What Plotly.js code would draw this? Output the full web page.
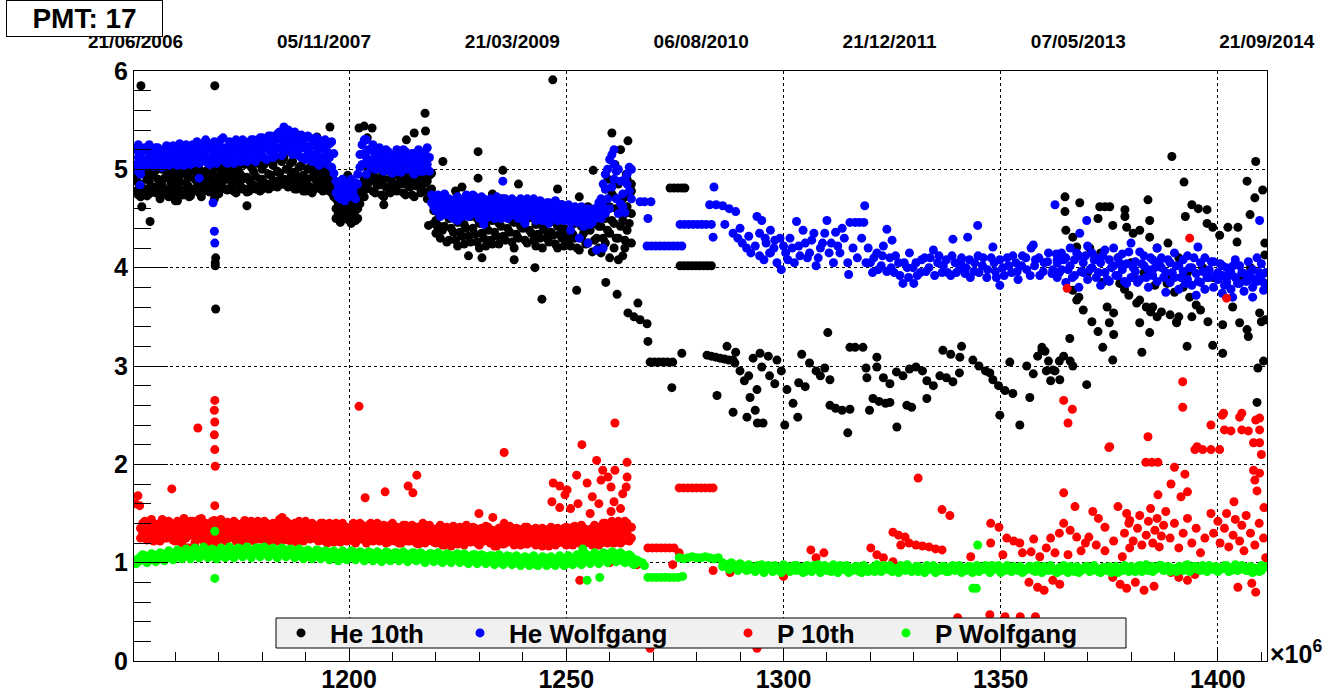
<!DOCTYPE html>
<html>
<head>
<meta charset="utf-8">
<script src="https://cdn.plot.ly/plotly-3.0.1.min.js"></script>
<style>
  html, body { margin: 0; padding: 0; background: #ffffff; }
  #plot { width: 1337px; height: 693px; }
</style>
</head>
<body>
<div id="plot"></div>
<script>
// Gain monitoring for PMT 17: four calibration methods versus time (x in 10^6 s).
const seriesNames = ['He 10th', 'He Wolfgang', 'P 10th', 'P Wolfgang'];
const seriesColors = ['#000000', '#0000ff', '#ff0000', '#00ff00'];
const dateTickLabels = ['21/06/2006', '05/11/2007', '21/03/2009', '06/08/2010', '21/12/2011', '07/05/2013', '21/09/2014'];
const pmtLabel = 'PMT: 17';

// Each row: [time, reading, reading, ...] — readings taken around the same time.
const heTenthBand = [
  [1151,4.92,4.78,5.0],[1152,4.85,4.72],[1153,4.95,4.8],[1154,4.88,4.75,5.02],[1155,4.82,4.96],
  [1156,4.9,4.77],[1157,5.0,4.84,4.74],[1158,4.93,4.79],[1159,4.86,5.02],[1160,4.76,4.95,4.68],
  [1161,4.88,4.8],[1162,5.0,4.74],[1163,4.92,4.83],[1164,4.78,5.03],[1165,4.87,4.95],
  [1166,4.8,4.72],[1167,4.98,4.86],[1168,4.9,4.77],[1169,5.02,4.84],[1170,4.75,4.94],
  [1171,4.88,5.04],[1172,4.79,4.96],[1173,4.85,5.0],[1174,4.76,4.92],[1175,4.95,4.83],
  [1176,5.05,4.8],[1177,4.89,4.78],[1178,4.98,4.84],[1179,5.06,4.82],[1180,4.9,4.8,5.0],
  [1181,5.08,4.85],[1182,4.94,4.82],[1183,5.1,4.88],[1184,4.96,4.84],[1185,5.12,4.9],
  [1186,5.0,4.82],[1187,5.08,4.86],[1188,4.93,4.8],[1189,5.04,4.85],[1190,4.9,4.78],
  [1191,5.02,4.82],[1192,4.95,4.8],[1193,4.87,5.05],[1194,4.78,4.92],[1195,4.98,4.84],
  [1196,4.9,4.76],[1197,4.7,4.6,4.5],[1198,4.55,4.65,4.46],[1199,4.62,4.5],[1200,4.48,4.58,4.68],
  [1201,4.52,4.64],[1202,4.6,4.5,4.7],[1203,4.85,4.75],[1204,4.95,4.8],[1205,4.88,5.02],
  [1206,4.76,4.92],[1207,5.0,4.84],[1208,4.9,4.72],[1209,4.98,4.8],[1210,4.86,5.04],
  [1211,4.78,4.94],[1212,5.0,4.85],[1213,4.9,4.74],[1214,4.82,4.98],[1215,4.72,4.9],
  [1216,5.02,4.84],[1217,4.78,4.95],[1218,4.88,4.7],[1219,4.8,4.96],[1220,4.62,4.48,4.35],
  [1221,4.55,4.3],[1222,4.42,4.66],[1223,4.28,4.5],[1224,4.6,4.36],[1225,4.22,4.46],
  [1226,4.56,4.32],[1227,4.4,4.68],[1228,4.26,4.52],[1229,4.62,4.34],[1230,4.45,4.2],
  [1231,4.3,4.55],[1232,4.64,4.38],[1233,4.24,4.48],[1234,4.58,4.32],[1235,4.42,4.7],
  [1236,4.28,4.52],[1237,4.6,4.36],[1238,4.2,4.46],[1239,4.54,4.3],[1240,4.4,4.66],
  [1241,4.25,4.5],[1242,4.6,4.35],[1243,4.44,4.22],[1244,4.3,4.56],[1245,4.62,4.38],
  [1246,4.26,4.48],[1247,4.55,4.33],[1248,4.42,4.2],[1249,4.64,4.3],[1250,4.36,4.5],
  [1251,4.22,4.58],[1252,4.45,4.3],[1253,4.6,4.18],[1254,4.35,4.52],[1255,4.25,4.62],
  [1256,4.44,4.16],[1257,4.55,4.3],[1258,4.15,4.42,4.68],[1259,4.5,4.25,4.8],[1260,4.35,4.62,4.1],
  [1261,4.72,4.45,4.2],[1262,4.3,4.58,4.85],[1263,4.12,4.48,4.7],[1264,4.38,4.62,4.9],[1265,4.25,4.55,4.78]
];
const heTenthBandMid = [
  [1151.5,4.86,4.74],[1152.5,4.98,4.8],[1153.5,4.73,4.9],[1154.5,4.94,4.82],[1155.5,4.76,4.99],
  [1156.5,4.84,4.7],[1157.5,4.91,4.78],[1158.5,4.72,4.97],[1159.5,4.8,4.93],[1160.5,4.99,4.86],
  [1161.5,4.74,4.95],[1162.5,4.86,4.79],[1163.5,4.98,4.73],[1164.5,4.9,4.8],[1165.5,4.76,5.0],
  [1166.5,4.93,4.84],[1167.5,4.78,4.9],[1168.5,4.96,4.82],[1169.5,4.88,4.76],[1170.5,5.0,4.83],
  [1171.5,4.8,4.93],[1172.5,4.9,5.02],[1173.5,4.78,4.95],[1174.5,5.0,4.86],[1175.5,4.8,4.9],
  [1176.5,4.92,4.77],[1177.5,5.02,4.85],[1178.5,4.8,4.93],[1179.5,4.9,4.78],[1180.5,5.05,4.86],
  [1181.5,4.8,4.95],[1182.5,5.04,4.88],[1183.5,4.82,4.98],[1184.5,5.08,4.9],[1185.5,4.84,5.0],
  [1186.5,4.92,5.06],[1187.5,4.8,4.97],[1188.5,5.02,4.86],[1189.5,4.78,4.94],[1190.5,5.0,4.84],
  [1191.5,4.76,4.92],[1192.5,4.88,5.0],[1193.5,4.8,4.96],[1194.5,4.86,5.02],[1195.5,4.78,4.92],
  [1196.5,4.84,4.72],[1197.5,4.55,4.66],[1198.5,4.5,4.6],[1199.5,4.56,4.67],[1200.5,4.45,4.62],
  [1201.5,4.58,4.48],[1202.5,4.65,4.78],[1203.5,4.9,4.72],[1204.5,4.86,5.0],[1205.5,4.78,4.94],
  [1206.5,4.84,5.02],[1207.5,4.74,4.92],[1208.5,4.82,5.0],[1209.5,4.9,4.76],[1210.5,4.96,4.8],
  [1211.5,4.86,5.02],[1212.5,4.76,4.92],[1213.5,4.98,4.84],[1214.5,4.74,4.9],[1215.5,4.83,4.98],
  [1216.5,4.76,4.92],[1217.5,4.86,5.0],[1218.5,4.78,4.94],[1219.5,4.7,4.58],[1220.5,4.4,4.56],
  [1221.5,4.64,4.38],[1222.5,4.26,4.54],[1223.5,4.62,4.4],[1224.5,4.5,4.28],[1225.5,4.6,4.36],
  [1226.5,4.24,4.44],[1227.5,4.55,4.32],[1228.5,4.4,4.64],[1229.5,4.5,4.26],[1230.5,4.35,4.6],
  [1231.5,4.44,4.22],[1232.5,4.28,4.52],[1233.5,4.6,4.36],[1234.5,4.45,4.24],[1235.5,4.56,4.32],
  [1236.5,4.4,4.62],[1237.5,4.48,4.26],[1238.5,4.34,4.58],[1239.5,4.64,4.42],[1240.5,4.28,4.52],
  [1241.5,4.38,4.6],[1242.5,4.5,4.28],[1243.5,4.58,4.34],[1244.5,4.42,4.2],[1245.5,4.5,4.3],
  [1246.5,4.36,4.6],[1247.5,4.24,4.46],[1248.5,4.55,4.34],[1249.5,4.4,4.22],[1250.5,4.6,4.28],
  [1251.5,4.34,4.48],[1252.5,4.54,4.2],[1253.5,4.42,4.3],[1254.5,4.6,4.24],[1255.5,4.38,4.5],
  [1256.5,4.28,4.58],[1257.5,4.42,4.2],[1258.5,4.3,4.55],[1259.5,4.62,4.38],[1260.5,4.48,4.75],
  [1261.5,4.3,4.6],[1262.5,4.42,4.7],[1263.5,4.55,4.28],[1264.5,4.45,4.72]
];
const heTenthScatter = [
  [1152.1,5.85],[1169.1,5.85],[1152.3,4.62],[1154.2,4.47],[1169.2,4.05],[1169.3,4.1],[1169.2,4.02],
  [1169.3,3.58],[1169.0,4.7],[1176.5,4.63],[1160.5,4.68],[1163.2,4.72],[1195.6,5.43],[1192.6,5.33],
  [1151.4,4.95],[1165.8,4.85],[1199.7,4.94],[1197.2,4.7],
  [1202.3,5.42],[1203.5,5.44],[1205.3,5.42],[1204.2,5.32],[1217.5,5.57],[1217.6,5.39],[1213.2,5.3],
  [1215.0,5.37],[1208.0,4.64],[1218.3,4.43],[1219.5,4.45],[1220.8,4.42],[1221.6,5.08],[1210.5,5.1],
  [1229.7,5.18],[1235.4,4.99],[1229.7,4.91],[1246.9,5.91],[1230.6,4.1],[1244.4,3.68],[1242.8,4.0],
  [1252.4,3.77],[1226.0,4.82],[1239.0,4.85],[1224.5,4.78],[1233.0,4.75],[1248.0,4.8],[1253.0,4.72],
  [1227.5,4.12],[1238.0,4.08],[1256.2,4.99],
  [1260.5,5.37],[1264.2,5.29],[1262.5,5.2],[1261.2,5.05],[1263.8,4.95],[1259.6,4.9],[1265.0,4.85],
  [1262.0,4.08],[1263.5,4.2],
  [1259.1,3.85],[1261.7,3.73],[1266.5,3.64],[1264.2,3.54],[1265.6,3.5],[1267.0,3.47],[1268.6,3.43],
  [1268.8,3.25],[1269.3,3.04],[1270.3,3.04],[1271.3,3.04],[1272.3,3.04],[1273.3,3.04],[1274.5,3.04],
  [1276.6,3.13],[1274.3,2.78],
  [1273.9,4.81],[1274.8,4.81],[1275.7,4.81],[1276.6,4.81],[1277.3,4.81],
  [1276.2,4.02],[1277.1,4.02],[1278.0,4.02],[1278.9,4.02],[1279.8,4.02],[1280.7,4.02],[1281.6,4.02],
  [1282.5,4.02],[1283.4,4.02],
  [1282.4,3.11],[1283.4,3.1],[1284.4,3.09],[1285.4,3.08],[1286.4,3.07],[1287.4,3.06],[1288.4,3.06],
  [1287.0,3.2],[1289.0,3.14],[1284.7,2.7],[1288.8,3.03],[1290.0,2.95],[1291.0,2.85],[1292.0,2.9],
  [1293.9,2.76],[1288.4,2.53],[1291.6,2.48],[1292.3,2.68],[1293.5,2.55],[1294.0,2.42],[1293.0,3.08],
  [1294.6,3.13],[1296.5,3.1],[1298.5,3.06],[1295.0,2.99],[1296.8,2.9],[1298.0,2.82],[1299.5,2.95],
  [1300.8,2.76],[1295.3,2.42],[1300.3,2.4],[1302.2,2.62],[1303.3,2.48],[1304.2,3.12],[1306.0,3.03],
  [1307.5,2.95],[1308.5,2.9],[1309.5,2.98],[1310.7,2.86],[1310.2,3.34],[1303.5,2.83],[1305.0,2.79],
  [1310.7,2.6],[1312.0,2.57],[1313.5,2.55],[1315.3,2.56],[1314.8,2.32],[1315.3,3.19],[1316.5,3.19],
  [1318.3,3.19],[1321.5,3.09],[1319.0,2.98],[1319.2,2.88],[1320.6,2.67],[1322.0,2.64],[1323.5,2.62],
  [1324.5,2.63],[1319.8,2.55],[1321.5,2.99],[1323.0,2.88],[1324.5,2.82],[1326.0,2.94],[1327.5,2.9],
  [1329.0,2.97],[1330.5,2.99],[1332.0,2.95],[1333.0,2.85],[1326.1,2.38],[1328.4,2.6],[1329.5,2.58],
  [1333.0,2.67],[1334.5,2.8],[1336.0,2.9],[1337.5,2.88],[1339.0,2.84],[1340.5,2.93],[1336.7,3.16],
  [1338.5,3.12],[1340.6,3.09],[1341.0,3.2],[1343.6,3.06],[1345.0,3.0],[1346.5,2.95],[1347.5,2.93],
  [1348.2,2.86],[1349.5,2.8],[1351.0,2.75],[1352.8,2.72],[1349.8,2.5],[1354.4,2.4],[1352.1,3.04],
  [1356.7,2.68],[1356.0,3.0],[1357.5,2.92],[1358.5,3.1],[1359.5,3.19],[1361.0,3.05],[1362.0,2.96],
  [1363.6,2.86],[1360.2,3.15],
  [1359.5,3.16],[1360.5,2.95],[1361.5,2.85],[1362.5,2.95],[1363.5,3.05],[1364.5,3.1],[1366.0,3.05],
  [1366.6,3.0],[1369.8,2.81],
  [1364.8,4.72],[1364.8,4.57],[1368.2,4.66],[1365.0,4.38],[1366.6,4.31],[1367.5,4.21],[1366.6,3.77],
  [1367.5,3.67],[1369.0,3.57],[1368.0,3.7],[1365.9,3.28],[1371.0,3.45],[1372.4,3.35],[1373.5,3.19],
  [1372.4,4.5],[1372.8,4.62],[1374.0,4.62],[1375.1,4.62],[1374.5,3.6],[1376.0,3.54],[1375.8,3.06],
  [1375.0,3.44],[1376.0,3.32],[1378.6,4.59],[1378.6,4.52],[1375.8,4.43],[1379.0,4.41],[1380.5,4.35],
  [1382.0,4.38],[1384.3,4.31],[1383.9,4.69],[1384.3,4.48],[1377.4,3.84],[1378.5,3.78],[1379.5,3.72],
  [1381.3,3.64],[1382.0,3.67],[1383.5,3.6],[1384.5,3.55],[1386.0,3.5],[1382.0,3.44],[1384.3,3.34],
  [1382.5,3.14],[1385.0,3.6],[1387.0,3.55],[1389.0,3.52],[1391.0,3.5],[1390.5,3.44],[1389.4,5.13],
  [1392.2,4.87],[1394.0,4.64],[1395.5,4.6],[1397.5,4.59],[1392.5,4.52],[1397.5,4.45],[1398.8,4.41],
  [1400.4,4.33],[1402.3,4.41],[1404.6,4.41],[1404.4,4.26],[1406.7,4.88],[1408.7,5.08],[1410.3,4.79],
  [1408.5,4.71],[1407.4,4.54],[1410.8,4.25],[1410.8,4.13],[1388.3,3.84],[1390.0,3.75],[1392.0,3.8],
  [1393.5,3.7],[1395.0,3.62],[1396.0,3.57],[1394.0,3.5],[1390.5,3.45],[1397.7,3.45],[1398.8,3.21],
  [1401.1,3.42],[1401.1,3.13],[1403.4,3.6],[1405.0,3.44],[1406.7,3.37],[1407.0,3.3],[1409.6,3.54],
  [1411.0,3.47],[1410.0,3.45],[1409.2,2.98],[1410.5,3.05],[1409.0,2.63],[1392.9,3.2],
  [1370.5,4.2],[1373.0,4.15],[1377.0,4.1],[1380.0,4.05],[1383.0,3.95],[1386.0,4.2],[1388.5,4.25],
  [1391.0,4.1],[1393.0,3.95],[1396.5,4.0],[1399.0,3.9],[1402.0,3.85],[1405.5,3.9],[1407.5,4.0],
  [1370.0,3.95],[1373.5,3.85],[1380.5,3.9],[1385.5,3.82],[1388.0,3.9]
];

const heWolfgangBand = [
  [1151,5.2,5.05],[1152,5.1,4.95],[1153,5.22,5.04],[1154,5.12,5.25],[1155,5.03,5.18],
  [1156,5.08,5.22],[1157,5.15,5.02],[1158,5.24,5.1],[1159,5.05,5.16],[1160,5.2,5.08],
  [1161,5.12,5.26],[1162,5.04,5.18],[1163,5.22,5.1],[1164,5.06,5.25],[1165,5.15,5.28],
  [1166,5.08,5.2],[1167,5.3,5.12],[1168,5.05,5.22],[1169,5.16,5.28],[1170,5.1,5.24],
  [1171,5.32,5.14],[1172,5.06,5.2],[1173,5.26,5.12],[1174,5.18,5.3],[1175,5.08,5.22],
  [1176,5.28,5.14],[1177,5.1,5.24],[1178,5.3,5.16],[1179,5.12,5.26],[1180,5.2,5.32],
  [1181,5.1,5.28],[1182,5.34,5.18],[1183,5.14,5.3],[1184,5.38,5.22],[1185,5.43,5.18],
  [1186,5.26,5.4],[1187,5.15,5.34],[1188,5.3,5.2],[1189,5.12,5.35],[1190,5.24,5.1],
  [1191,5.32,5.16],[1192,5.08,5.26],[1193,5.2,5.3],[1194,5.12,5.24],[1195,5.05,5.18],
  [1196,5.28,5.02],[1197,4.88,4.76],[1198,4.7,4.84],[1199,4.78,4.68],[1200,4.86,4.72],
  [1201,4.74,4.8],[1202,4.85,4.95],[1203,5.25,5.05],[1204,5.12,5.3],[1205,5.2,5.02],
  [1206,5.0,5.15],[1207,5.22,5.08],[1208,4.98,5.12],[1209,5.18,5.04],[1210,5.1,4.96],
  [1211,5.2,5.02],[1212,4.97,5.14],[1213,5.08,5.18],[1214,5.0,5.12],[1215,5.16,4.95],
  [1216,5.06,5.2],[1217,4.98,5.12],[1218,5.22,5.05],[1219,4.74,4.66],[1220,4.7,4.58],
  [1221,4.52,4.64],[1222,4.75,4.6],[1223,4.56,4.7],[1224,4.62,4.5],[1225,4.72,4.55],
  [1226,4.64,4.52],[1227,4.58,4.74],[1228,4.68,4.54],[1229,4.6,4.72],[1230,4.5,4.66],
  [1231,4.7,4.57],[1232,4.62,4.52],[1233,4.55,4.68],[1234,4.72,4.6],[1235,4.64,4.5],
  [1236,4.56,4.7],[1237,4.62,4.53],[1238,4.68,4.58],[1239,4.5,4.66],[1240,4.6,4.55],
  [1241,4.7,4.52],[1242,4.57,4.65],[1243,4.62,4.48],[1244,4.54,4.68],[1245,4.6,4.5],
  [1246,4.66,4.56],[1247,4.52,4.62],[1248,4.58,4.48],[1249,4.64,4.54],[1250,4.5,4.6],
  [1251,4.56,4.46],[1252,4.62,4.52],[1253,4.48,4.58],[1254,4.55,4.45],[1255,4.6,4.5],
  [1256,4.46,4.56],[1257,4.52,4.6],[1258,4.7,4.5],[1259,4.8,4.55,4.95],[1260,5.1,4.6],
  [1261,5.2,4.9,5.05],[1262,5.0,4.55],[1263,4.75,4.62],[1264,4.85,4.95],[1265,4.7,5.0],
  [1363,4.05,3.9],[1364,4.15,3.98],[1365,4.1,3.85],[1366,4.02,4.2],[1367,3.92,4.08],
  [1368,3.8,4.12],[1369,3.95,4.05],[1370,4.22,3.88],[1371,4.0,4.15],[1372,3.9,4.1],
  [1373,3.82,4.05],[1374,4.18,3.95],[1375,4.08,3.86],[1376,4.02,4.2],[1377,3.92,4.1],
  [1378,3.98,4.14],[1379,3.84,4.04],[1380,4.25,3.9],[1381,4.06,3.96],[1382,4.16,3.88],
  [1383,4.02,4.12],[1384,3.8,3.98],[1385,4.08,3.92],[1386,4.2,3.86],[1387,4.0,4.1],
  [1388,3.75,3.95],[1389,4.05,3.85],[1390,4.15,3.9],[1391,4.02,3.78],[1392,3.96,4.08],
  [1393,3.88,4.12],[1394,3.82,4.0],[1395,3.72,3.94],[1396,4.05,3.85],[1397,4.1,3.78],
  [1398,3.98,3.9],[1399,4.06,3.8],[1400,3.95,3.88],[1401,4.02,3.92],[1402,3.85,4.0],
  [1403,3.78,3.95],[1404,4.08,3.9],[1405,3.84,4.02],[1406,3.94,3.76],[1407,4.06,3.88],
  [1408,3.8,3.98],[1409,4.1,3.86],[1410,3.92,4.04],[1411,3.82,3.95]
];
const heWolfgangBandMid = [
  [1151.5,5.12,4.98],[1152.5,5.18,5.02],[1153.5,5.1,5.2],[1154.5,5.04,5.16],[1155.5,5.22,5.1],
  [1156.5,5.14,5.03],[1157.5,5.08,5.2],[1158.5,5.16,5.04],[1159.5,5.24,5.1],[1160.5,5.14,5.04],
  [1161.5,5.2,5.08],[1162.5,5.12,5.25],[1163.5,5.05,5.16],[1164.5,5.18,5.12],[1165.5,5.06,5.22],
  [1166.5,5.26,5.14],[1167.5,5.2,5.06],[1168.5,5.12,5.26],[1169.5,5.22,5.06],[1170.5,5.16,5.3],
  [1171.5,5.08,5.22],[1172.5,5.14,5.28],[1173.5,5.2,5.06],[1174.5,5.1,5.24],[1175.5,5.16,5.3],
  [1176.5,5.22,5.08],[1177.5,5.18,5.3],[1178.5,5.08,5.22],[1179.5,5.18,5.32],[1180.5,5.26,5.12],
  [1181.5,5.2,5.34],[1182.5,5.12,5.26],[1183.5,5.22,5.36],[1184.5,5.3,5.14],[1185.5,5.34,5.24],
  [1186.5,5.18,5.3],[1187.5,5.24,5.38],[1188.5,5.14,5.26],[1189.5,5.22,5.3],[1190.5,5.16,5.34],
  [1191.5,5.24,5.08],[1192.5,5.16,5.32],[1193.5,5.1,5.24],[1194.5,5.2,5.3],[1195.5,5.12,5.26],
  [1196.5,5.16,4.96],[1197.5,4.82,4.72],[1198.5,4.78,4.9],[1199.5,4.84,4.74],[1200.5,4.78,4.9],
  [1201.5,4.86,4.7],[1202.5,5.02,5.15],[1203.5,5.16,5.3],[1204.5,5.2,5.05],[1205.5,5.1,5.25],
  [1206.5,5.06,5.2],[1207.5,5.14,5.0],[1208.5,5.06,5.2],[1209.5,5.1,4.98],[1210.5,5.15,5.04],
  [1211.5,5.1,4.98],[1212.5,5.06,5.2],[1213.5,5.0,5.12],[1214.5,5.06,5.16],[1215.5,5.08,5.02],
  [1216.5,5.14,4.98],[1217.5,5.05,5.18],[1218.5,5.12,4.98],[1219.5,4.7,4.62],[1220.5,4.64,4.74],
  [1221.5,4.7,4.58],[1222.5,4.54,4.66],[1223.5,4.64,4.52],[1224.5,4.7,4.58],[1225.5,4.6,4.66],
  [1226.5,4.7,4.56],[1227.5,4.64,4.52],[1228.5,4.6,4.74],[1229.5,4.54,4.66],[1230.5,4.62,4.72],
  [1231.5,4.64,4.5],[1232.5,4.7,4.58],[1233.5,4.62,4.5],[1234.5,4.66,4.55],[1235.5,4.58,4.7],
  [1236.5,4.64,4.5],[1237.5,4.7,4.58],[1238.5,4.52,4.63],[1239.5,4.58,4.7],[1240.5,4.66,4.5],
  [1241.5,4.6,4.62],[1242.5,4.52,4.7],[1243.5,4.56,4.66],[1244.5,4.62,4.48],[1245.5,4.56,4.66],
  [1246.5,4.5,4.6],[1247.5,4.58,4.68],[1248.5,4.52,4.64],[1249.5,4.58,4.48],[1250.5,4.55,4.64],
  [1251.5,4.5,4.6],[1252.5,4.56,4.46],[1253.5,4.52,4.62],[1254.5,4.48,4.58],[1255.5,4.55,4.44],
  [1256.5,4.5,4.6],[1257.5,4.56,4.66],[1258.5,4.62,4.85],[1259.5,4.7,5.0],[1260.5,4.82,5.15],
  [1261.5,4.7,4.98],[1262.5,4.88,4.65],[1263.5,4.56,4.9],[1264.5,4.78,5.02],
  [1363.5,3.95],[1364.5,4.08],[1365.5,3.98],[1366.5,3.9],[1367.5,4.15],[1368.5,3.96],
  [1369.5,4.12],[1370.5,3.98],[1371.5,4.08],[1372.5,3.95],[1373.5,4.12],[1374.5,3.88],
  [1375.5,4.0],[1376.5,3.92],[1377.5,4.04],[1378.5,3.86],[1379.5,4.16],[1380.5,4.0],
  [1381.5,3.85],[1382.5,4.04],[1383.5,3.9],[1384.5,4.1],[1385.5,4.0],[1386.5,4.05],
  [1387.5,3.9],[1388.5,4.08],[1389.5,3.95],[1390.5,4.02],[1391.5,3.9],[1392.5,3.84],
  [1393.5,4.0],[1394.5,4.1],[1395.5,3.86],[1396.5,3.96],[1397.5,3.9],[1398.5,4.06],
  [1399.5,3.92],[1400.5,4.04],[1401.5,3.82],[1402.5,3.92],[1403.5,4.02],[1404.5,3.84],
  [1405.5,3.95],[1406.5,3.86],[1407.5,3.95],[1408.5,3.88],[1409.5,3.95],[1410.5,3.85]
];
const heWolfgangScatter = [
  [1151.9,4.84],[1165.5,4.91],[1168.7,4.66],[1169.0,4.37],[1169.1,4.25],[1193.1,5.04],[1151.5,5.25],
  [1204.0,4.95],
  [1235.4,4.88],[1251.0,4.38],[1253.0,4.3],[1255.0,4.25],[1257.0,4.18],[1258.5,4.2],[1254.0,4.42],
  [1246.0,4.45],[1240.5,4.45],[1225.0,4.48],[1231.0,4.44],
  [1267.0,4.67],[1268.0,4.67],[1269.5,4.67],[1268.8,4.5],
  [1268.6,4.22],[1269.6,4.22],[1270.6,4.22],[1271.6,4.22],[1272.6,4.22],[1273.6,4.22],[1274.6,4.22],
  [1275.6,4.22],[1276.6,4.22],
  [1276.2,4.44],[1277.2,4.44],[1278.2,4.44],[1279.2,4.44],[1280.2,4.44],[1281.2,4.44],[1282.2,4.44],
  [1283.4,4.44],
  [1284.0,4.82],[1283.0,4.64],[1284.5,4.64],[1286.0,4.63],[1287.5,4.6],[1289.0,4.57],[1283.8,4.31],
  [1286.5,4.44],[1288.4,4.35],[1289.5,4.3],[1290.5,4.25],[1291.5,4.2],[1292.5,4.15],[1293.5,4.22],
  [1294.5,4.12],[1295.5,4.08],[1297.0,4.15],[1293.9,4.52],[1290.0,4.4],[1292.0,4.32],
  [1294.5,4.35],[1295.0,4.48],[1296.0,4.25],[1297.0,4.38],[1297.8,4.2],[1298.5,4.05],[1299.2,4.3],
  [1299.5,3.98],[1300.5,4.15],[1301.5,4.3],[1302.5,4.05],[1303.0,4.47],[1303.5,4.22],[1304.5,4.38],
  [1305.5,4.1],[1306.5,4.28],[1307.5,4.02],[1308.5,4.2],[1309.5,4.35],[1310.0,4.48],[1311.0,4.25],
  [1312.0,4.36],[1313.0,4.15],[1314.0,4.3],[1314.8,4.05],[1315.0,3.93],[1315.3,4.46],[1316.5,4.46],
  [1317.5,4.46],[1318.5,4.46],[1318.7,4.63],[1319.5,4.2],[1320.0,4.05],[1320.5,3.95],[1321.5,4.15],
  [1322.5,4.02],[1323.0,4.22],[1323.8,4.39],[1324.5,4.1],[1325.0,4.28],[1325.5,3.95],[1326.5,4.05],
  [1327.5,3.84],[1328.5,4.0],[1329.0,4.15],[1330.0,3.84],[1330.5,4.05],[1331.5,3.95],[1332.5,4.1],
  [1333.5,4.0],[1334.5,4.18],[1335.5,4.05],[1336.5,3.95],[1337.5,4.08],[1338.5,3.92],[1339.0,4.29],
  [1339.5,4.05],[1340.5,3.98],[1341.0,4.1],[1342.0,4.0],[1342.4,4.31],[1343.0,3.9],[1344.0,4.05],
  [1344.7,4.43],[1345.0,3.95],[1346.0,4.1],[1347.0,3.98],[1348.2,4.21],[1348.5,4.05],[1349.0,3.9],
  [1349.8,3.82],[1350.5,4.0],[1351.5,4.1],[1352.5,3.95],[1353.5,4.05],[1354.0,3.88],[1355.0,4.12],
  [1356.0,3.98],[1357.0,4.2],[1357.5,4.23],[1358.0,4.08],[1359.0,3.92],[1360.0,4.05],[1361.0,4.15],
  [1362.0,3.98],[1362.5,4.64],[1363.0,4.08],
  [1295.8,4.3],[1296.8,4.15],[1298.0,4.28],[1300.0,4.22],[1301.0,4.08],[1302.0,4.2],[1303.8,4.12],
  [1305.0,4.25],[1306.0,4.15],[1307.0,4.35],[1308.0,4.1],[1309.0,4.25],[1310.5,4.15],[1311.5,4.05],
  [1312.5,4.22],[1313.5,4.4],[1316.0,4.2],[1317.0,4.1],[1318.0,4.3],[1319.0,4.05],
  [1320.8,4.1],[1321.8,3.98],[1322.8,4.12],[1323.8,3.96],[1324.8,4.0],[1325.8,4.12],[1326.8,3.92],
  [1327.8,4.05],[1328.8,3.9],[1329.8,4.0],[1330.8,3.92],[1331.8,4.08],[1332.8,3.96],[1333.8,4.1],
  [1334.8,3.92],[1335.8,4.12],[1336.8,4.02],[1337.8,3.95],[1338.8,4.12],[1339.8,3.95],[1340.8,4.05],
  [1341.8,3.94],[1342.8,4.08],[1343.8,3.96],[1344.8,4.12],[1345.8,4.02],[1346.8,3.9],[1347.8,4.1],
  [1348.8,3.96],[1349.8,4.08],[1350.8,3.92],[1351.8,4.02],[1352.8,4.12],[1353.8,3.96],[1354.8,4.02],
  [1355.8,4.1],[1356.8,3.92],[1357.8,4.02],[1358.8,4.1],[1359.8,3.96],[1360.8,4.06],[1361.8,3.94],
  [1362.8,4.14],
  [1369.8,4.48],[1368.2,4.35],[1395.4,4.21],[1409.6,4.48],[1401.0,3.74],[1403.4,3.7],[1408.0,3.7],
  [1410.5,3.77]
];

const pTenthBand = [
  [1152,1.35,1.25],[1153,1.42,1.3],[1154,1.28,1.38],[1155,1.22,1.4],[1156,1.33,1.27],
  [1157,1.44,1.3],[1158,1.25,1.36],[1159,1.4,1.28],[1160,1.32,1.22],[1161,1.38,1.26],
  [1162,1.3,1.45],[1163,1.15,1.35],[1164,1.42,1.28],[1165,1.24,1.37],[1166,1.33,1.45],
  [1167,1.27,1.4],[1168,1.36,1.22],[1169,1.3,1.43],[1170,1.25,1.38],[1171,1.34,1.28],
  [1172,1.41,1.24],[1173,1.3,1.36],[1174,1.22,1.4],[1175,1.35,1.27],[1176,1.43,1.3],
  [1177,1.26,1.36],[1178,1.38,1.22],[1179,1.3,1.42],[1180,1.24,1.34],[1181,1.4,1.28],
  [1182,1.32,1.22],[1183,1.37,1.26],[1184,1.3,1.44],[1185,1.23,1.36],[1186,1.4,1.3],
  [1187,1.27,1.35],[1188,1.33,1.21],[1189,1.38,1.28],[1190,1.25,1.42],[1191,1.34,1.24],
  [1192,1.3,1.38],[1193,1.22,1.35],[1194,1.4,1.27],[1195,1.32,1.2],[1196,1.36,1.26],
  [1197,1.28,1.4],[1198,1.21,1.34],[1199,1.37,1.28],[1200,1.25,1.32],[1201,1.4,1.22],
  [1202,1.3,1.36],[1203,1.24,1.38],[1204,1.33,1.2],[1205,1.27,1.4],[1206,1.36,1.24],
  [1207,1.3,1.22],[1208,1.38,1.27],[1209,1.21,1.34],[1210,1.3,1.4],[1211,1.25,1.36],
  [1212,1.33,1.2],[1213,1.38,1.28],[1214,1.22,1.34],[1215,1.3,1.24],[1216,1.36,1.19],
  [1217,1.28,1.4],[1218,1.22,1.33],[1219,1.35,1.26],[1220,1.2,1.3],[1221,1.38,1.24],
  [1222,1.28,1.18],[1223,1.34,1.22],[1224,1.25,1.37],[1225,1.19,1.3],[1226,1.33,1.24],
  [1227,1.27,1.38],[1228,1.21,1.32],[1229,1.35,1.25],[1230,1.18,1.29],[1231,1.31,1.22],
  [1232,1.26,1.36],[1233,1.2,1.33],[1234,1.3,1.17],[1235,1.24,1.35],[1236,1.32,1.2],
  [1237,1.27,1.37],[1238,1.18,1.3],[1239,1.34,1.22],[1240,1.25,1.32],[1241,1.19,1.36],
  [1242,1.3,1.23],[1243,1.35,1.18],[1244,1.22,1.29],[1245,1.32,1.26],[1246,1.17,1.34],
  [1247,1.28,1.22],[1248,1.35,1.2],[1249,1.24,1.3],[1250,1.18,1.36],[1251,1.31,1.23],
  [1252,1.26,1.37],[1253,1.2,1.32],[1254,1.35,1.25],[1255,1.22,1.3],[1256,1.28,1.18],
  [1257,1.36,1.24],[1258,1.2,1.32],[1259,1.3,1.4],[1260,1.24,1.35],[1261,1.38,1.2],
  [1262,1.28,1.42],[1263,1.22,1.34],[1264,1.4,1.3],[1265,1.25,1.36]
];
const pTenthBandMid = [
  [1152.5,1.3,1.4],[1153.5,1.23,1.35],[1154.5,1.44,1.32],[1155.5,1.3,1.37],[1156.5,1.4,1.22],
  [1157.5,1.35,1.25],[1158.5,1.3,1.42],[1159.5,1.23,1.35],[1160.5,1.42,1.28],[1161.5,1.33,1.2],
  [1162.5,1.25,1.38],[1163.5,1.28,1.42],[1164.5,1.35,1.2],[1165.5,1.3,1.44],[1166.5,1.22,1.38],
  [1167.5,1.34,1.2],[1168.5,1.42,1.28],[1169.5,1.36,1.2],[1170.5,1.3,1.44],[1171.5,1.22,1.38],
  [1172.5,1.34,1.3],[1173.5,1.42,1.25],[1174.5,1.3,1.36],[1175.5,1.4,1.22],[1176.5,1.24,1.35],
  [1177.5,1.31,1.42],[1178.5,1.28,1.34],[1179.5,1.36,1.24],[1180.5,1.42,1.3],[1181.5,1.22,1.35],
  [1182.5,1.4,1.28],[1183.5,1.32,1.22],[1184.5,1.36,1.26],[1185.5,1.3,1.42],[1186.5,1.22,1.35],
  [1187.5,1.4,1.3],[1188.5,1.28,1.42],[1189.5,1.34,1.22],[1190.5,1.3,1.36],[1191.5,1.4,1.28],
  [1192.5,1.24,1.34],[1193.5,1.3,1.4],[1194.5,1.35,1.22],[1195.5,1.28,1.4],[1196.5,1.32,1.21],
  [1197.5,1.35,1.24],[1198.5,1.28,1.4],[1199.5,1.22,1.33],[1200.5,1.36,1.28],[1201.5,1.3,1.2],
  [1202.5,1.24,1.4],[1203.5,1.32,1.28],[1204.5,1.38,1.25],[1205.5,1.22,1.33],[1206.5,1.3,1.4],
  [1207.5,1.35,1.26],[1208.5,1.2,1.32],[1209.5,1.28,1.38],[1210.5,1.22,1.34],[1211.5,1.31,1.2],
  [1212.5,1.26,1.38],[1213.5,1.33,1.22],[1214.5,1.28,1.38],[1215.5,1.36,1.2],[1216.5,1.24,1.3],
  [1217.5,1.34,1.2],[1218.5,1.28,1.38],[1219.5,1.21,1.32],[1220.5,1.35,1.26],[1221.5,1.3,1.18],
  [1222.5,1.22,1.36],[1223.5,1.28,1.17],[1224.5,1.32,1.2],[1225.5,1.24,1.36],[1226.5,1.3,1.18],
  [1227.5,1.22,1.33],[1228.5,1.36,1.26],[1229.5,1.3,1.2],[1230.5,1.24,1.35],[1231.5,1.37,1.27],
  [1232.5,1.2,1.3],[1233.5,1.26,1.17],[1234.5,1.35,1.23],[1235.5,1.29,1.19],[1236.5,1.25,1.36],
  [1237.5,1.32,1.21],[1238.5,1.24,1.35],[1239.5,1.29,1.18],[1240.5,1.36,1.2],[1241.5,1.26,1.31],
  [1242.5,1.2,1.34],[1243.5,1.28,1.24],[1244.5,1.35,1.17],[1245.5,1.21,1.3],[1246.5,1.26,1.36],
  [1247.5,1.33,1.18],[1248.5,1.27,1.24],[1249.5,1.35,1.2],[1250.5,1.25,1.31],[1251.5,1.18,1.36],
  [1252.5,1.3,1.22],[1253.5,1.27,1.38],[1254.5,1.2,1.3],[1255.5,1.34,1.26],[1256.5,1.22,1.38],
  [1257.5,1.3,1.18],[1258.5,1.26,1.4],[1259.5,1.2,1.35],[1260.5,1.42,1.3],[1261.5,1.25,1.34],
  [1262.5,1.2,1.36],[1263.5,1.3,1.42],[1264.5,1.22,1.36]
];
const pTenthScatter = [
  [1150.8,1.6],[1151.4,1.68],[1151.8,1.58],[1159.2,1.75],[1165.2,2.37],[1169.1,2.65],[1169.0,2.55],
  [1169.1,2.43],[1169.0,2.3],[1169.1,2.15],[1169.2,1.98],[1169.1,1.58],[1162.7,1.15],[1202.3,2.59],
  [1203.7,1.66],[1208.3,1.72],[1213.6,1.78],[1214.7,1.71],[1215.6,1.89],[1184.6,1.46],[1229.9,1.5],
  [1233.1,1.46],[1235.7,1.4],[1235.7,2.12],[1247.0,1.81],[1248.5,1.78],[1250.2,1.74],[1246.7,1.62],
  [1248.5,1.56],[1249.7,1.69],[1252.4,1.89],[1252.7,1.6],[1253.6,2.2],[1254.8,1.81],[1256.0,1.67],
  [1257.0,2.04],[1258.4,1.94],[1258.0,1.84],[1259.6,1.87],[1261.2,1.94],[1261.2,2.42],[1260.3,1.77],
  [1261.0,1.62],[1260.3,1.52],[1264.0,2.02],[1264.0,1.87],[1263.8,1.77],[1253.1,0.82],[1260.0,1.0],
  [1266.3,0.98],[1255.5,1.5],[1257.5,1.6],[1251.0,1.55],[1262.5,1.55],[1263.0,1.7],
  [1268.8,1.15],[1269.8,1.15],[1270.8,1.15],[1271.8,1.15],[1272.8,1.15],[1273.8,1.15],[1274.8,1.15],
  [1276.0,1.1],[1274.5,0.98],
  [1276.0,1.76],[1277.0,1.76],[1278.0,1.76],[1279.0,1.76],[1280.0,1.76],[1281.0,1.76],[1282.0,1.76],
  [1283.0,1.76],[1283.8,1.76],
  [1283.8,0.92],[1287.7,0.9],[1300.0,0.86],[1306.3,1.13],[1309.3,1.1],[1307.5,1.05],[1331.0,1.86],
  [1320.1,1.15],[1321.5,1.08],[1323.0,1.05],[1325.2,1.01],[1325.2,1.31],[1326.5,1.28],[1328.0,1.26],
  [1327.0,1.18],[1328.9,1.2],[1330.5,1.18],[1332.0,1.17],[1333.5,1.16],[1335.0,1.14],[1336.5,1.13],
  [1336.5,1.54],[1338.3,1.48],[1343.1,1.06],
  [1269.3,0.13],[1293.9,0.13],[1340.1,0.44],[1347.5,0.47],[1351.0,0.45],[1354.5,0.45],[1358.0,0.45],
  [1347.7,1.4],[1349.6,1.36],[1347.7,1.2],[1351.4,1.25],[1353.0,1.22],[1354.4,1.2],[1357.6,1.24],
  [1350.5,1.08],[1355.0,1.1],[1357.0,1.11],
  [1364.5,1.71],[1367.1,1.57],[1364.5,1.4],[1366.0,1.33],[1367.5,1.26],[1364.5,2.65],[1366.5,2.56],
  [1365.5,2.42],[1374.9,2.17],[1371.2,1.52],[1372.5,1.45],[1374.0,1.36],[1370.3,1.26],[1372.0,1.18],
  [1374.0,1.12],[1376.0,1.22],[1378.0,1.06],[1379.7,1.15],[1377.0,1.57],[1379.0,1.5],[1379.7,1.43],
  [1383.9,2.28],[1383.4,2.02],[1384.8,2.02],[1386.2,2.02],[1390.0,1.97],[1392.4,1.9],[1389.2,1.8],
  [1386.2,1.69],[1391.5,1.67],[1393.0,1.72],[1391.9,2.58],[1391.9,2.84],[1394.7,2.15],[1396.5,2.15],
  [1398.4,2.15],[1398.4,2.4],[1400.4,2.15],[1401.3,2.52],[1405.5,2.52],[1401.5,2.35],[1405.5,2.35],
  [1408.7,2.45],[1409.6,2.35],[1408.2,2.22],[1410.0,2.1],[1408.2,1.94],[1409.6,1.91],[1408.5,1.84],
  [1409.0,1.73],[1403.7,1.62],[1410.6,1.56],
  [1375.8,0.85],[1377.5,0.78],[1379.0,0.74],[1381.0,0.8],[1383.0,0.72],[1385.3,0.76],[1389.2,0.9],
  [1391.0,0.85],[1393.0,0.82],[1394.7,0.88],[1404.6,0.75],[1407.8,0.79],[1408.7,0.7],
  [1378.5,1.3],[1379.5,1.4],[1380.5,1.22],[1381.5,1.35],[1382.0,1.48],[1382.5,1.18],[1383.5,1.28],
  [1384.0,1.42],[1384.5,1.55],[1385.0,1.2],[1385.5,1.33],[1386.0,1.45],[1386.5,1.16],[1387.0,1.27],
  [1387.5,1.38],[1388.0,1.52],[1389.0,1.25],[1390.0,1.4],[1391.0,1.15],[1392.0,1.3],[1393.0,1.45],
  [1394.0,1.2],[1395.0,1.35],[1396.0,1.1],[1397.0,1.25],
  [1398.4,1.5],[1399.0,1.3],[1400.0,1.42],[1400.5,1.2],[1401.5,1.35],[1402.0,1.5],[1402.5,1.16],
  [1403.5,1.28],[1404.0,1.44],[1405.0,1.22],[1405.5,1.38],[1406.0,1.12],[1406.5,1.48],[1407.5,1.3],
  [1408.5,1.18],[1409.5,1.4],[1410.5,1.25],[1411.0,1.05],
  [1359.0,1.06],[1360.5,1.15],[1361.5,1.25],[1362.5,1.1],[1363.5,1.3],[1368.5,1.12],[1369.5,1.2],
  [1365.5,1.08],[1356.5,0.8],[1358.5,0.75],[1360.0,0.72],[1362.0,0.82],[1363.6,0.78],
  [1365.3,3.79],[1393.5,4.3],[1402.0,3.69],[1375.1,2.18],[1395.2,2.18],[1401.0,2.5],[1405.0,2.48],
  [1409.6,2.47],[1403.0,2.34],[1407.0,2.34],[1409.6,2.22]
];

const pWolfgangBand = [
  [1151,1.03,0.99],[1152,1.06],[1153,1.02,1.07],[1154,1.05],[1155,1.08,1.03],[1156,1.06],
  [1157,1.04,1.09],[1158,1.07],[1159,1.1,1.05],[1160,1.08],[1161,1.06,1.11],[1162,1.09],
  [1163,1.12,1.07],[1164,1.1],[1165,1.08,1.13],[1166,1.11],[1167,1.14,1.08],[1168,1.1],
  [1169,1.06,1.12],[1170,1.09],[1171,1.13,1.08],[1172,1.11],[1173,1.07,1.12],[1174,1.1],
  [1175,1.14,1.09],[1176,1.12],[1177,1.08,1.13],[1178,1.11],[1179,1.15,1.09],[1180,1.12],
  [1181,1.09,1.14],[1182,1.11],[1183,1.13,1.08],[1184,1.1],[1185,1.14,1.09],[1186,1.12],
  [1187,1.08,1.13],[1188,1.1],[1189,1.12,1.07],[1190,1.09],[1191,1.11,1.06],[1192,1.08],
  [1193,1.12,1.07],[1194,1.09],[1195,1.06,1.11],[1196,1.08],[1197,1.1,1.05],[1198,1.07],
  [1199,1.04,1.1],[1200,1.08],[1201,1.06,1.11],[1202,1.09],[1203,1.05,1.1],[1204,1.07],
  [1205,1.1,1.05],[1206,1.08],[1207,1.04,1.09],[1208,1.07],[1209,1.1,1.05],[1210,1.08],
  [1211,1.06,1.1],[1212,1.08],[1213,1.04,1.09],[1214,1.06],[1215,1.1,1.05],[1216,1.07],
  [1217,1.03,1.08],[1218,1.06],[1219,1.09,1.04],[1220,1.07],[1221,1.02,1.08],[1222,1.05],
  [1223,1.08,1.03],[1224,1.06],[1225,1.04,1.09],[1226,1.06],[1227,1.01,1.07],[1228,1.05],
  [1229,1.08,1.03],[1230,1.05],[1231,1.02,1.07],[1232,1.04],[1233,1.07,1.02],[1234,1.05],
  [1235,1.0,1.06],[1236,1.03],[1237,1.06,1.01],[1238,1.04],[1239,0.99,1.05],[1240,1.02],
  [1241,1.05,1.0],[1242,1.03],[1243,0.98,1.04],[1244,1.02],[1245,1.05,1.0],[1246,1.03],
  [1247,0.99,1.04],[1248,1.02],[1249,1.05,1.0],[1250,1.03],[1251,0.99,1.05],[1252,1.02],
  [1253,1.06,1.0],[1254,1.03],[1255,1.07,1.01],[1256,1.04],[1257,1.08,1.02],[1258,1.05],
  [1259,1.09,1.03],[1260,1.06],[1261,1.1,1.04],[1262,1.07],[1263,1.02,1.08],[1264,1.05],
  [1265,1.0,1.06],[1266,0.99,1.03],
  [1286,1.0,0.96],[1287,0.98],[1288,0.95,1.0],[1289,0.97],[1290,0.94,0.99],[1291,0.96],
  [1292,0.98,0.93],[1293,0.95],[1294,0.97],[1295,0.93,0.98],[1296,0.96],[1297,0.94],
  [1298,0.97,0.92],[1299,0.95],[1300,0.93,0.98],[1301,0.96],[1302,0.94],[1303,0.97,0.92],
  [1304,0.95],[1305,0.91,0.96],[1306,0.94],[1307,0.97],[1308,0.93,0.98],[1309,0.95],
  [1310,0.92],[1311,0.96,0.91],[1312,0.94],[1313,0.97],[1314,0.93],[1315,0.95,0.9],
  [1316,0.92],[1317,0.96],[1318,0.94,0.9],[1319,0.95],[1320,0.92],[1321,0.96,0.91],
  [1322,0.94],[1323,0.97],[1324,0.93],[1325,0.95,0.91],[1326,0.94],[1327,0.97],
  [1328,0.92,0.96],[1329,0.95],[1330,0.93],[1331,0.96,0.91],[1332,0.94],[1333,0.97],
  [1334,0.93],[1335,0.95,0.9],[1336,0.92],[1337,0.96],[1338,0.94,0.91],[1339,0.97],
  [1340,0.93],[1341,0.95,0.9],[1342,0.92],[1343,0.96],[1344,0.94],[1345,0.91,0.96],
  [1346,0.93],[1347,0.95],[1348,0.92,0.97],[1349,0.94],[1350,0.9],[1351,0.95,0.92],
  [1352,0.94],[1353,0.96],[1354,0.92],[1355,0.94,0.9],[1356,0.93],[1357,0.96],
  [1358,0.91,0.95],[1359,0.93],[1360,0.96],[1361,0.92,0.95],[1362,0.94],[1363,0.9],
  [1364,0.95,0.92],[1365,0.93],[1366,0.96],[1367,0.91],[1368,0.94,0.9],[1369,0.93],
  [1370,0.96],[1371,0.92,0.95],[1372,0.94],[1373,0.9],[1374,0.95],[1375,0.92,0.96],
  [1376,0.93],[1377,0.9],[1378,0.95,0.92],[1379,0.94],[1380,0.96],[1381,0.91],
  [1382,0.93,0.97],[1383,0.95],[1384,0.92],[1385,0.96,0.91],[1386,0.94],[1387,0.97],
  [1388,0.93],[1389,0.95,0.91],[1390,0.94],[1391,0.96],[1392,0.92],[1393,0.95,0.98],
  [1394,0.93],[1395,0.96],[1396,0.92,0.95],[1397,0.94],[1398,0.97],[1399,0.93],
  [1400,0.95,0.91],[1401,0.94],[1402,0.97],[1403,0.92],[1404,0.95,0.98],[1405,0.93],
  [1406,0.96],[1407,0.92],[1408,0.95,0.9],[1409,0.94],[1410,0.97,0.92],[1411,0.96]
];
const pWolfgangBandMid = [
  [1151.5,1.01],[1152.5,1.08],[1153.5,1.0],[1154.5,1.09],[1155.5,1.01],[1156.5,1.1],
  [1157.5,1.02],[1158.5,1.12],[1159.5,1.03],[1160.5,1.13],[1161.5,1.04],[1162.5,1.14],
  [1163.5,1.04],[1164.5,1.15],[1165.5,1.05],[1166.5,1.16],[1167.5,1.05],[1168.5,1.14],
  [1169.5,1.04],[1170.5,1.15],[1171.5,1.05],[1172.5,1.16],[1173.5,1.05],[1174.5,1.15],
  [1175.5,1.06],[1176.5,1.16],[1177.5,1.05],[1178.5,1.15],[1179.5,1.06],[1180.5,1.16],
  [1181.5,1.06],[1182.5,1.15],[1183.5,1.05],[1184.5,1.15],[1185.5,1.06],[1186.5,1.14],
  [1187.5,1.05],[1188.5,1.14],[1189.5,1.04],[1190.5,1.13],[1191.5,1.04],[1192.5,1.13],
  [1193.5,1.04],[1194.5,1.12],[1195.5,1.03],[1196.5,1.12],[1197.5,1.02],[1198.5,1.12],
  [1199.5,1.03],[1200.5,1.12],[1201.5,1.03],[1202.5,1.11],[1203.5,1.02],[1204.5,1.11],
  [1205.5,1.02],[1206.5,1.11],[1207.5,1.01],[1208.5,1.11],[1209.5,1.02],[1210.5,1.1],
  [1211.5,1.02],[1212.5,1.11],[1213.5,1.01],[1214.5,1.1],[1215.5,1.02],[1216.5,1.1],
  [1217.5,1.0],[1218.5,1.09],[1219.5,1.01],[1220.5,1.1],[1221.5,1.0],[1222.5,1.09],
  [1223.5,1.0],[1224.5,1.08],[1225.5,1.0],[1226.5,1.09],[1227.5,0.99],[1228.5,1.08],
  [1229.5,0.99],[1230.5,1.08],[1231.5,0.99],[1232.5,1.07],[1233.5,0.98],[1234.5,1.08],
  [1235.5,0.98],[1236.5,1.07],[1237.5,0.98],[1238.5,1.07],[1239.5,0.97],[1240.5,1.06],
  [1241.5,0.97],[1242.5,1.07],[1243.5,0.97],[1244.5,1.06],[1245.5,0.97],[1246.5,1.06],
  [1247.5,0.97],[1248.5,1.07],[1249.5,0.97],[1250.5,1.07],[1251.5,0.98],[1252.5,1.08],
  [1253.5,0.98],[1254.5,1.09],[1255.5,0.99],[1256.5,1.1],[1257.5,0.99],[1258.5,1.1],
  [1259.5,1.0],[1260.5,1.11],[1261.5,1.01],[1262.5,1.1],[1263.5,1.0],[1264.5,1.08],
  [1265.5,0.98],
  [1286.5,0.97],[1287.5,0.93],[1288.5,0.98],[1289.5,0.92],[1290.5,0.97],[1291.5,0.92],
  [1292.5,0.96],[1293.5,0.91],[1294.5,0.95],[1295.5,0.9],[1296.5,0.97],[1297.5,0.91],
  [1298.5,0.95],[1299.5,0.9],[1300.5,0.96],[1301.5,0.91],[1302.5,0.97],[1303.5,0.93],
  [1304.5,0.9],[1305.5,0.97],[1306.5,0.91],[1307.5,0.94],[1308.5,0.9],[1309.5,0.97],
  [1310.5,0.95],[1311.5,0.98],[1312.5,0.9],[1313.5,0.93],[1314.5,0.97],[1315.5,0.93],
  [1316.5,0.96],[1317.5,0.91],[1318.5,0.97],[1319.5,0.91],[1320.5,0.95],[1321.5,0.98],
  [1322.5,0.91],[1323.5,0.94],[1324.5,0.97],[1325.5,0.93],[1326.5,0.9],[1327.5,0.93],
  [1328.5,0.98],[1329.5,0.91],[1330.5,0.96],[1331.5,0.93],[1332.5,0.9],[1333.5,0.94],
  [1334.5,0.97],[1335.5,0.93],[1336.5,0.96],[1337.5,0.91],[1338.5,0.96],[1339.5,0.92],
  [1340.5,0.97],[1341.5,0.93],[1342.5,0.96],[1343.5,0.9],[1344.5,0.97],[1345.5,0.93],
  [1346.5,0.97],[1347.5,0.9],[1348.5,0.94],[1349.5,0.97],[1350.5,0.93],[1351.5,0.97],
  [1352.5,0.91],[1353.5,0.93],[1354.5,0.96],[1355.5,0.92],[1356.5,0.96],[1357.5,0.92],
  [1358.5,0.97],[1359.5,0.9],[1360.5,0.93],[1361.5,0.97],[1362.5,0.91],[1363.5,0.95],
  [1364.5,0.97],[1365.5,0.9],[1366.5,0.93],[1367.5,0.96],[1368.5,0.92],[1369.5,0.96],
  [1370.5,0.91],[1371.5,0.97],[1372.5,0.91],[1373.5,0.95],[1374.5,0.92],[1375.5,0.9],
  [1376.5,0.96],[1377.5,0.94],[1378.5,0.97],[1379.5,0.91],[1380.5,0.93],[1381.5,0.96],
  [1382.5,0.91],[1383.5,0.98],[1384.5,0.95],[1385.5,0.93],[1386.5,0.97],[1387.5,0.92],
  [1388.5,0.96],[1389.5,0.93],[1390.5,0.91],[1391.5,0.94],[1392.5,0.97],[1393.5,0.91],
  [1394.5,0.96],[1395.5,0.93],[1396.5,0.97],[1397.5,0.91],[1398.5,0.94],[1399.5,0.96],
  [1400.5,0.93],[1401.5,0.97],[1402.5,0.91],[1403.5,0.95],[1404.5,0.92],[1405.5,0.97],
  [1406.5,0.92],[1407.5,0.96],[1408.5,0.93],[1409.5,0.91],[1410.5,0.95]
];
const pWolfgangScatter = [
  [1169.1,1.32],[1169.1,0.84],[1253.8,1.14],[1254.8,0.82],[1257.7,0.85],[1344.7,1.18],
  [1343.6,0.74],[1344.4,0.74],[1266.5,1.02],[1267.5,1.0],[1268.0,0.97],
  [1268.8,0.85],[1269.8,0.85],[1270.8,0.85],[1271.8,0.85],[1272.8,0.85],[1273.8,0.85],
  [1274.8,0.85],[1275.8,0.85],[1276.8,0.86],
  [1276.0,1.05],[1277.0,1.04],[1278.0,1.05],[1279.0,1.06],[1280.0,1.05],[1281.0,1.05],
  [1282.0,1.06],[1283.0,1.05],[1284.0,1.04],[1285.0,1.05]
];

const seriesRows = [
  heTenthBand.concat(heTenthBandMid, heTenthScatter),
  heWolfgangBand.concat(heWolfgangBandMid, heWolfgangScatter),
  pTenthBand.concat(pTenthBandMid, pTenthScatter),
  pWolfgangBand.concat(pWolfgangBandMid, pWolfgangScatter)
];

function expandRows(rows) {
  const xs = [], ys = [];
  rows.forEach(function (row) {
    for (let i = 1; i < row.length; i++) { xs.push(row[0]); ys.push(row[i]); }
  });
  return { xs: xs, ys: ys };
}

// Date labels sit at their own times on the top axis (same 10^6 s units).
const dateTickPositions = dateTickLabels.map(function (s) {
  const p = s.split('/').map(Number);
  return Date.UTC(p[2], p[1] - 1, p[0]) / 1e9;
});

const legendIds = ['legend', 'legend2', 'legend3', 'legend4'];
const traces = [{
  // carries the top date axis; it has no points of its own
  type: 'scatter', mode: 'markers', x: [], y: [], xaxis: 'x2', yaxis: 'y',
  showlegend: false, hoverinfo: 'skip'
}].concat(seriesRows.map(function (rows, i) {
  const pts = expandRows(rows);
  return {
    type: 'scatter', mode: 'markers', name: seriesNames[i],
    x: pts.xs, y: pts.ys, legend: legendIds[i],
    marker: { color: seriesColors[i], size: 9, line: { width: 0 } },
    cliponaxis: true, hoverinfo: 'x+y'
  };
}));

const W = 1337, H = 693;
const M = { l: 134, r: 70, t: 71, b: 32 };
const plotW = W - M.l - M.r, plotH = H - M.t - M.b;
const px2x = function (px) { return (px - M.l) / plotW; };
const py2y = function (py) { return (H - M.b - py) / plotH; };
const xRange = [1150.5, 1411.3];

const baseFont = { family: 'Liberation Sans, Arial, sans-serif', color: '#000000', weight: 'bold' };
const legendBase = {
  orientation: 'h', bgcolor: 'rgba(0,0,0,0)', borderwidth: 0, itemwidth: 48,
  font: Object.assign({}, baseFont, { size: 26 }),
  xanchor: 'left', yanchor: 'middle', y: py2y(633)
};
const legendLeft = [272, 451, 719, 877];

const layout = {
  width: W, height: H, margin: M,
  paper_bgcolor: '#ffffff', plot_bgcolor: '#ffffff',
  showlegend: true,
  xaxis: {
    range: xRange, tick0: 0, dtick: 50,
    ticks: 'inside', ticklen: 13, tickwidth: 1, tickcolor: '#000000',
    showline: true, linecolor: '#000000', linewidth: 1, mirror: true,
    showgrid: true, gridcolor: '#000000', gridwidth: 1, griddash: 'dot',
    zeroline: false, automargin: false, fixedrange: true, ticklabelstandoff: -4,
    tickfont: Object.assign({}, baseFont, { size: 25 }),
    minor: { dtick: 10, ticks: 'inside', ticklen: 9, tickwidth: 1, tickcolor: '#000000', showgrid: false }
  },
  xaxis2: {
    overlaying: 'x', side: 'top', range: xRange, anchor: 'y',
    tickmode: 'array', tickvals: dateTickPositions, ticktext: dateTickLabels,
    ticks: '', showgrid: false, showline: false, zeroline: false, automargin: false,
    ticklabelstandoff: 18, fixedrange: true,
    tickfont: Object.assign({}, baseFont, { size: 19 })
  },
  yaxis: {
    range: [0, 6], tick0: 0, dtick: 1,
    ticks: 'inside', ticklen: 34, tickwidth: 1, tickcolor: '#000000',
    showline: true, linecolor: '#000000', linewidth: 1, mirror: true,
    showgrid: true, gridcolor: '#000000', gridwidth: 1, griddash: 'dot',
    zeroline: false, automargin: false, fixedrange: true,
    tickfont: Object.assign({}, baseFont, { size: 25 }),
    minor: { dtick: 0.2, ticks: 'inside', ticklen: 17, tickwidth: 1, tickcolor: '#000000', showgrid: false }
  },
  shapes: [{
    type: 'rect', xref: 'paper', yref: 'paper', layer: 'above',
    x0: px2x(276), x1: px2x(1126), y0: py2y(648), y1: py2y(618),
    fillcolor: '#f0f0f0', line: { color: '#000000', width: 1 }
  }],
  annotations: [
    {
      xref: 'paper', yref: 'paper', x: px2x(6), y: py2y(0), xanchor: 'left', yanchor: 'top',
      text: pmtLabel, showarrow: false, align: 'center',
      width: 153, height: 33, borderpad: 1, borderwidth: 1,
      bordercolor: '#000000', bgcolor: '#ffffff',
      font: Object.assign({}, baseFont, { size: 28 })
    },
    {
      xref: 'paper', yref: 'paper', x: px2x(1268), y: py2y(652), xanchor: 'left', yanchor: 'middle',
      text: '×10<sup>6</sup>', showarrow: false,
      font: Object.assign({}, baseFont, { size: 25 })
    }
  ]
};
legendIds.forEach(function (id, i) {
  layout[id] = Object.assign({}, legendBase, { x: px2x(legendLeft[i]) });
});

Plotly.newPlot('plot', traces, layout, { displayModeBar: false, staticPlot: true });
</script>
</body>
</html>
